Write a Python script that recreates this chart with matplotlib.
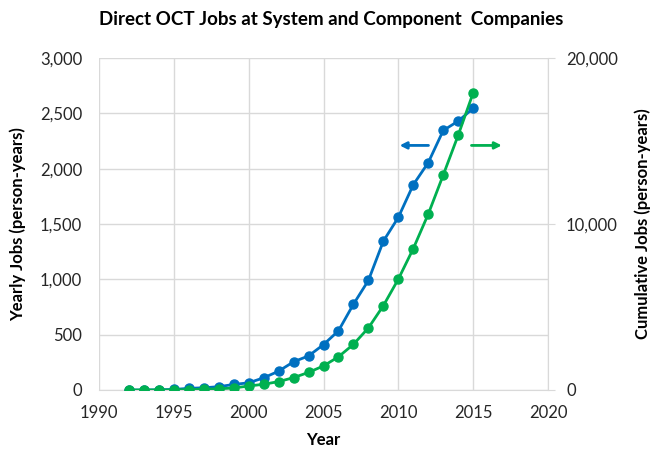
import matplotlib
matplotlib.use("Agg")
import matplotlib.pyplot as plt

years = list(range(1992, 2016))
yearly_jobs = [0, 0, 2, 5, 15, 20, 30, 50, 65, 110, 170, 255, 308, 410, 535, 775, 990, 1345, 1560, 1855, 2055, 2345, 2430, 2545]
cumulative_jobs = [0, 0, 2, 7, 22, 42, 72, 122, 240, 345, 505, 745, 1060, 1450, 2000, 2750, 3740, 5080, 6680, 8520, 10600, 12950, 15350, 17900]

left_ticks = [0, 500, 1000, 1500, 2000, 2500, 3000]
right_ticks = [0, 10000, 20000]
x_ticks = [1990, 1995, 2000, 2005, 2010, 2015, 2020]

plt.rcParams['font.family'] = ['Lato', 'DejaVu Sans']
BLUE = '#0070C0'
GREEN = '#00B050'
GRID = '#D9D9D9'
TXT = '#262626'

fig = plt.figure(figsize=(6.62, 4.49), dpi=100)
ax = fig.add_axes([99/662, 1 - 390/449, (548 - 99)/662, (390 - 58)/449])
ax2 = ax.twinx()

ax.plot(years, yearly_jobs, color=BLUE, lw=2, marker='o', ms=6.5, zorder=3)
ax2.plot(years, cumulative_jobs, color=GREEN, lw=2, marker='o', ms=6.5, zorder=3)

ax.set_xlim(1990, 2020)
ax.set_ylim(0, 3000)
ax2.set_ylim(0, 20000)
ax.set_xticks(x_ticks)
ax.set_yticks(left_ticks)
ax.set_yticklabels([f"{v:,}" for v in left_ticks])
ax2.set_yticks(right_ticks)
ax2.set_yticklabels([f"{v:,}" for v in right_ticks])

ax.grid(True, color=GRID, lw=1)
ax.set_axisbelow(True)
for s in ['left', 'top']:
    ax.spines[s].set_visible(False)
    ax2.spines[s].set_visible(False)
ax.spines['bottom'].set_color(GRID)
ax.spines['right'].set_visible(False)
ax2.spines['bottom'].set_visible(False)
ax2.spines['right'].set_color(GRID)

ax.tick_params(axis='x', length=0, labelsize=12, colors=TXT, pad=11)
ax.tick_params(axis='y', length=0, labelsize=12, colors=TXT, pad=12)
ax2.tick_params(axis='y', length=5, labelsize=12, colors=TXT, pad=8)
ax2.tick_params(axis='y', color=GRID)

ax.set_xlabel('Year', fontsize=12, fontweight='bold', color='black', labelpad=8)
ax.set_ylabel('Yearly Jobs (person-years)', fontsize=12, fontweight='bold', color='black', labelpad=10)
ax2.set_ylabel('Cumulative Jobs (person-years)', fontsize=12, fontweight='bold', color='black', labelpad=12)

fig.suptitle('Direct OCT Jobs at System and Component  Companies', fontsize=13.5,
             fontweight='bold', color='black', y=0.975)

ax.annotate('', xy=(2009.9, 2210), xytext=(2012.2, 2210),
            arrowprops=dict(arrowstyle='-|>', color=BLUE, lw=2, mutation_scale=10))
ax.annotate('', xy=(2017.1, 2210), xytext=(2014.7, 2210),
            arrowprops=dict(arrowstyle='-|>', color=GREEN, lw=2, mutation_scale=10))

fig.savefig('out.png', dpi=100)
